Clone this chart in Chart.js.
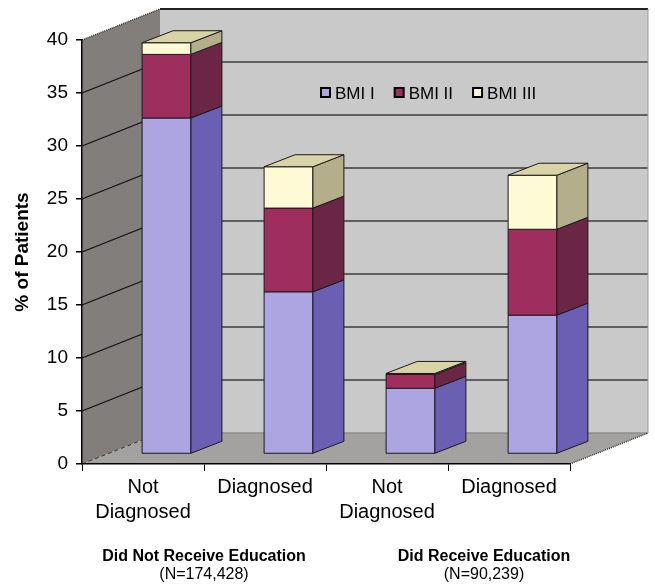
<!DOCTYPE html>
<html>
<head>
<meta charset="utf-8">
<script src="https://cdn.jsdelivr.net/npm/chart.js@4.4.0/dist/chart.umd.min.js"></script>
<style>
  html, body { margin: 0; padding: 0; background: #ffffff; }
  #wrap { width: 655px; height: 587px; }
</style>
</head>
<body>
<div id="wrap"><canvas id="chart" width="655" height="587"></canvas></div>
<script>
// ---- data ----
const categories = [['Not', 'Diagnosed'], 'Diagnosed', ['Not', 'Diagnosed'], 'Diagnosed'];
const seriesNames = ['BMI I', 'BMI II', 'BMI III'];
const bmi1 = [31.7, 15.3, 6.2, 13.1];
const bmi2 = [6.0, 7.9, 1.3, 8.1];
const bmi3 = [1.1, 3.9, 0.1, 5.1];
const groupTitles = ['Did Not Receive Education', 'Did Receive Education'];
const groupSizes = ['(N=174,428)', '(N=90,239)'];
const yMin = 0, yMax = 40, yStep = 5;

// ---- styling ----
const FONT = '"Liberation Sans", Arial, Helvetica, sans-serif';
const faceColors = [
  { front: '#aca5e2', side: '#6b5fb3', top: '#c9c4f0' },
  { front: '#9e2e5e', side: '#6b2545', top: '#b84f7c' },
  { front: '#fffad6', side: '#b4af8a', top: '#d9d4a8' }
];
const WALL_DX = 78, WALL_DY = 31;   // depth of floor / side wall
const BAR_OX = 23.5, BAR_OY = 10;   // front face of the columns inside the floor
const BAR_DX = 31, BAR_DY = 12;     // column depth
const OUTLINE = '#1a1a1a';

function poly(ctx, pts, fill, stroke, lw) {
  ctx.beginPath();
  ctx.moveTo(pts[0][0], pts[0][1]);
  for (let i = 1; i < pts.length; i++) ctx.lineTo(pts[i][0], pts[i][1]);
  ctx.closePath();
  if (fill) { ctx.fillStyle = fill; ctx.fill(); }
  if (stroke) { ctx.strokeStyle = stroke; ctx.lineWidth = lw || 1; ctx.stroke(); }
}

function line(ctx, x1, y1, x2, y2, color, lw, dash) {
  ctx.beginPath();
  ctx.setLineDash(dash || []);
  ctx.moveTo(x1, y1);
  ctx.lineTo(x2, y2);
  ctx.strokeStyle = color;
  ctx.lineWidth = lw;
  ctx.stroke();
  ctx.setLineDash([]);
}

// walls, floor and gridlines behind the columns
const wallsPlugin = {
  id: 'walls',
  beforeDraw(chart) {
    const { ctx, chartArea: a, scales: { y } } = chart;
    const L = a.left, R = a.right;
    const T = y.getPixelForValue(yMax), B = y.getPixelForValue(yMin);
    ctx.save();
    // back wall
    poly(ctx, [[L + WALL_DX, T - WALL_DY], [R + WALL_DX, T - WALL_DY], [R + WALL_DX, B - WALL_DY], [L + WALL_DX, B - WALL_DY]], '#c9c9c9');
    // side wall
    poly(ctx, [[L, B], [L, T], [L + WALL_DX, T - WALL_DY], [L + WALL_DX, B - WALL_DY]], '#817e7c');
    // floor
    poly(ctx, [[L, B], [R, B], [R + WALL_DX, B - WALL_DY], [L + WALL_DX, B - WALL_DY]], '#a4a2a0');

    // gridlines on back and side walls
    y.ticks.forEach(t => {
      const p = y.getPixelForValue(t.value);
      if (t.value === yMin) {
        line(ctx, L + WALL_DX, p - WALL_DY, R + WALL_DX, p - WALL_DY, '#8c8c8c', 1.5);
        line(ctx, L, p, L + WALL_DX, p - WALL_DY, '#333333', 1, [4, 3]);
      } else if (t.value === yMax) {
        line(ctx, L + WALL_DX, p - WALL_DY, R + WALL_DX, p - WALL_DY, '#222222', 2);
        line(ctx, L, p, L + WALL_DX, p - WALL_DY, '#333333', 1.5, [1, 1]);
      } else {
        line(ctx, L + WALL_DX, p - WALL_DY, R + WALL_DX, p - WALL_DY, '#3c3c3c', 1.5);
        line(ctx, L, p, L + WALL_DX, p - WALL_DY, '#111111', 1.3);
      }
    });
    // right edge of the back wall and of the floor
    line(ctx, R + WALL_DX, T - WALL_DY, R + WALL_DX, B - WALL_DY, '#9a9a9a', 1);
    line(ctx, R, B, R + WALL_DX, B - WALL_DY, '#333333', 1.5, [1, 1]);
    ctx.restore();
  }
};

// 3-D stacked columns built from the bar elements laid out by the scales
const columnsPlugin = {
  id: 'columns3d',
  beforeDatasetDraw() { return false; },
  afterDatasetsDraw(chart) {
    const { ctx } = chart;
    const nCat = chart.data.labels.length;
    const nSet = chart.data.datasets.length;
    ctx.save();
    ctx.lineJoin = 'miter';
    for (let j = 0; j < nCat; j++) {
      let topIdx = -1, topY = 0, left = 0, right = 0;
      for (let i = 0; i < nSet; i++) {
        const el = chart.getDatasetMeta(i).data[j];
        const { x, y, base, width } = el.getProps(['x', 'y', 'base', 'width'], true);
        const l = x - width / 2 + BAR_OX, r = x + width / 2 + BAR_OX;
        const t = y - BAR_OY, b = base - BAR_OY;
        const c = faceColors[i];
        poly(ctx, [[l, t], [r, t], [r, b], [l, b]], c.front, OUTLINE, 1);
        poly(ctx, [[r, t], [r + BAR_DX, t - BAR_DY], [r + BAR_DX, b - BAR_DY], [r, b]], c.side, OUTLINE, 1);
        if (chart.data.datasets[i].data[j] > 0) { topIdx = i; topY = t; left = l; right = r; }
      }
      if (topIdx >= 0) {
        const c = faceColors[topIdx];
        poly(ctx, [[left, topY], [left + BAR_DX, topY - BAR_DY], [right + BAR_DX, topY - BAR_DY], [right, topY]], c.top, OUTLINE, 1);
      }
    }
    ctx.restore();
  }
};

// legend inside the plot and the group captions under the axis
const captionsPlugin = {
  id: 'captions',
  afterDraw(chart) {
    const { ctx, chartArea: a, scales: { x } } = chart;
    ctx.save();
    // legend
    ctx.font = '17px ' + FONT;
    ctx.textBaseline = 'middle';
    ctx.textAlign = 'left';
    let lx = a.left + 238;
    const ly = 93;
    chart.data.datasets.forEach((ds, i) => {
      ctx.fillStyle = faceColors[i].front;
      ctx.fillRect(lx + 1, ly - 5, 9, 9);
      ctx.strokeStyle = '#000000';
      ctx.lineWidth = 2;
      ctx.strokeRect(lx + 1, ly - 5, 9, 9);
      ctx.fillStyle = '#000000';
      ctx.fillText(ds.label, lx + 15, ly + 1);
      lx += 15 + ctx.measureText(ds.label).width + 19;
    });
    // group captions
    const shifts = [0, 36];
    ctx.textAlign = 'center';
    groupTitles.forEach((title, g) => {
      const cx = (x.getPixelForValue(2 * g) + x.getPixelForValue(2 * g + 1)) / 2 + shifts[g];
      ctx.font = 'bold 16px ' + FONT;
      ctx.fillText(title, cx, 557);
      ctx.font = '16px ' + FONT;
      ctx.fillText(groupSizes[g], cx, 575);
    });
    ctx.restore();
  }
};

new Chart(document.getElementById('chart'), {
  type: 'bar',
  data: {
    labels: categories,
    datasets: [
      { label: seriesNames[0], data: bmi1, backgroundColor: faceColors[0].front },
      { label: seriesNames[1], data: bmi2, backgroundColor: faceColors[1].front },
      { label: seriesNames[2], data: bmi3, backgroundColor: faceColors[2].front }
    ]
  },
  options: {
    responsive: false,
    devicePixelRatio: 1,
    animation: false,
    categoryPercentage: 1.0,
    barPercentage: 0.4,
    layout: { padding: { left: 0, top: 40, right: 85, bottom: 0 } },
    plugins: { legend: { display: false }, tooltip: { enabled: false } },
    scales: {
      x: {
        stacked: true,
        afterFit(scale) { scale.height = 123; },
        grid: { drawOnChartArea: false, color: '#000000', tickLength: 7, offset: true },
        border: { color: '#000000', width: 1.5 },
        ticks: { color: '#000000', padding: 3.5, maxRotation: 0, font: { family: FONT, size: 20, lineHeight: 1.25 } }
      },
      y: {
        stacked: true,
        min: yMin, max: yMax,
        afterFit(scale) { scale.width = 82; },
        grid: { drawOnChartArea: false, color: '#000000', tickLength: 6, lineWidth: 1.5 },
        border: { color: '#000000', width: 1.5 },
        ticks: { stepSize: yStep, color: '#000000', padding: 8, font: { family: FONT, size: 19 } },
        title: { display: true, text: '% of Patients', color: '#000000', padding: { top: 11 }, font: { family: FONT, size: 19, weight: 'bold' } }
      }
    }
  },
  plugins: [wallsPlugin, columnsPlugin, captionsPlugin]
});
</script>
</body>
</html>
